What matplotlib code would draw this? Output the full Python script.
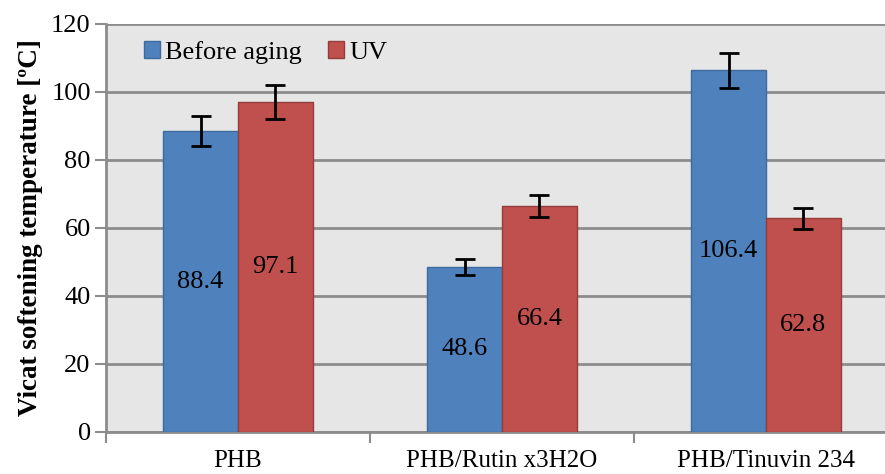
import numpy as np
import matplotlib
matplotlib.use('Agg')
from matplotlib import pyplot as plt

plt.rcParams['font.family'] = ['Liberation Serif', 'DejaVu Serif']

categories = ['PHB', 'PHB/Rutin x3H2O', 'PHB/Tinuvin 234']
before_aging = [88.4, 48.6, 106.4]
uv = [97.1, 66.4, 62.8]
before_err = [4.4, 2.4, 5.2]
uv_err = [4.9, 3.3, 3.0]

blue = '#4F81BD'
red = '#C0504D'

fig = plt.figure(figsize=(8.85, 4.74), dpi=100)
ax = fig.add_axes([106 / 885, 1 - 432 / 474, 1 - 106 / 885, (432 - 24) / 474])
ax.set_facecolor('#E6E6E6')

x = np.arange(len(categories))
w = 0.284
b1 = ax.bar(x - w / 2, before_aging, w, color=blue, edgecolor='#3D6A9E', linewidth=1,
            label='Before aging', zorder=3)
b2 = ax.bar(x + w / 2, uv, w, color=red, edgecolor='#943C3A', linewidth=1,
            label='UV', zorder=3)
ax.errorbar(x - w / 2, before_aging, yerr=before_err, fmt='none', ecolor='black',
            elinewidth=2, capsize=7, capthick=2, zorder=4)
ax.errorbar(x + w / 2, uv, yerr=uv_err, fmt='none', ecolor='black',
            elinewidth=2, capsize=7, capthick=2, zorder=4)

for bars, vals in ((b1, before_aging), (b2, uv)):
    for rect, v in zip(bars, vals):
        ax.text(rect.get_x() + rect.get_width() / 2, v / 2, f'{v:.1f}',
                ha='center', va='center', fontsize=19, zorder=5)

ax.set_ylim(0, 120)
ax.set_yticks(range(0, 121, 20))
ax.set_xlim(-0.5, 2.5 - 13 / 264)
ax.yaxis.grid(True, color='#8C8C8C', linewidth=2, zorder=0)
ax.set_axisbelow(True)

ax.set_xticks(x)
ax.set_xticklabels(categories, fontsize=18)
ax.set_xticks([-0.5, 0.5, 1.5], minor=True)
ax.tick_params(axis='x', which='major', length=0, pad=13)
ax.tick_params(axis='x', which='minor', length=8, width=1.5, color='#8C8C8C')
ax.tick_params(axis='y', length=8, width=1.5, color='#8C8C8C', labelsize=19, pad=3)

for s in ('top', 'right'):
    ax.spines[s].set_visible(False)
for s in ('left', 'bottom'):
    ax.spines[s].set_color('#8C8C8C')
    ax.spines[s].set_linewidth(2)

ax.set_ylabel('Vicat softening temperature [ºC]', fontsize=19.5, fontweight='bold', labelpad=6)

ax.legend(loc='upper left', bbox_to_anchor=(0.035, 0.985), ncol=2, frameon=False,
          fontsize=19, handlelength=0.6, handleheight=0.6, handletextpad=0.2,
          columnspacing=1.0, borderaxespad=0)

fig.savefig('out.png', dpi=100)
